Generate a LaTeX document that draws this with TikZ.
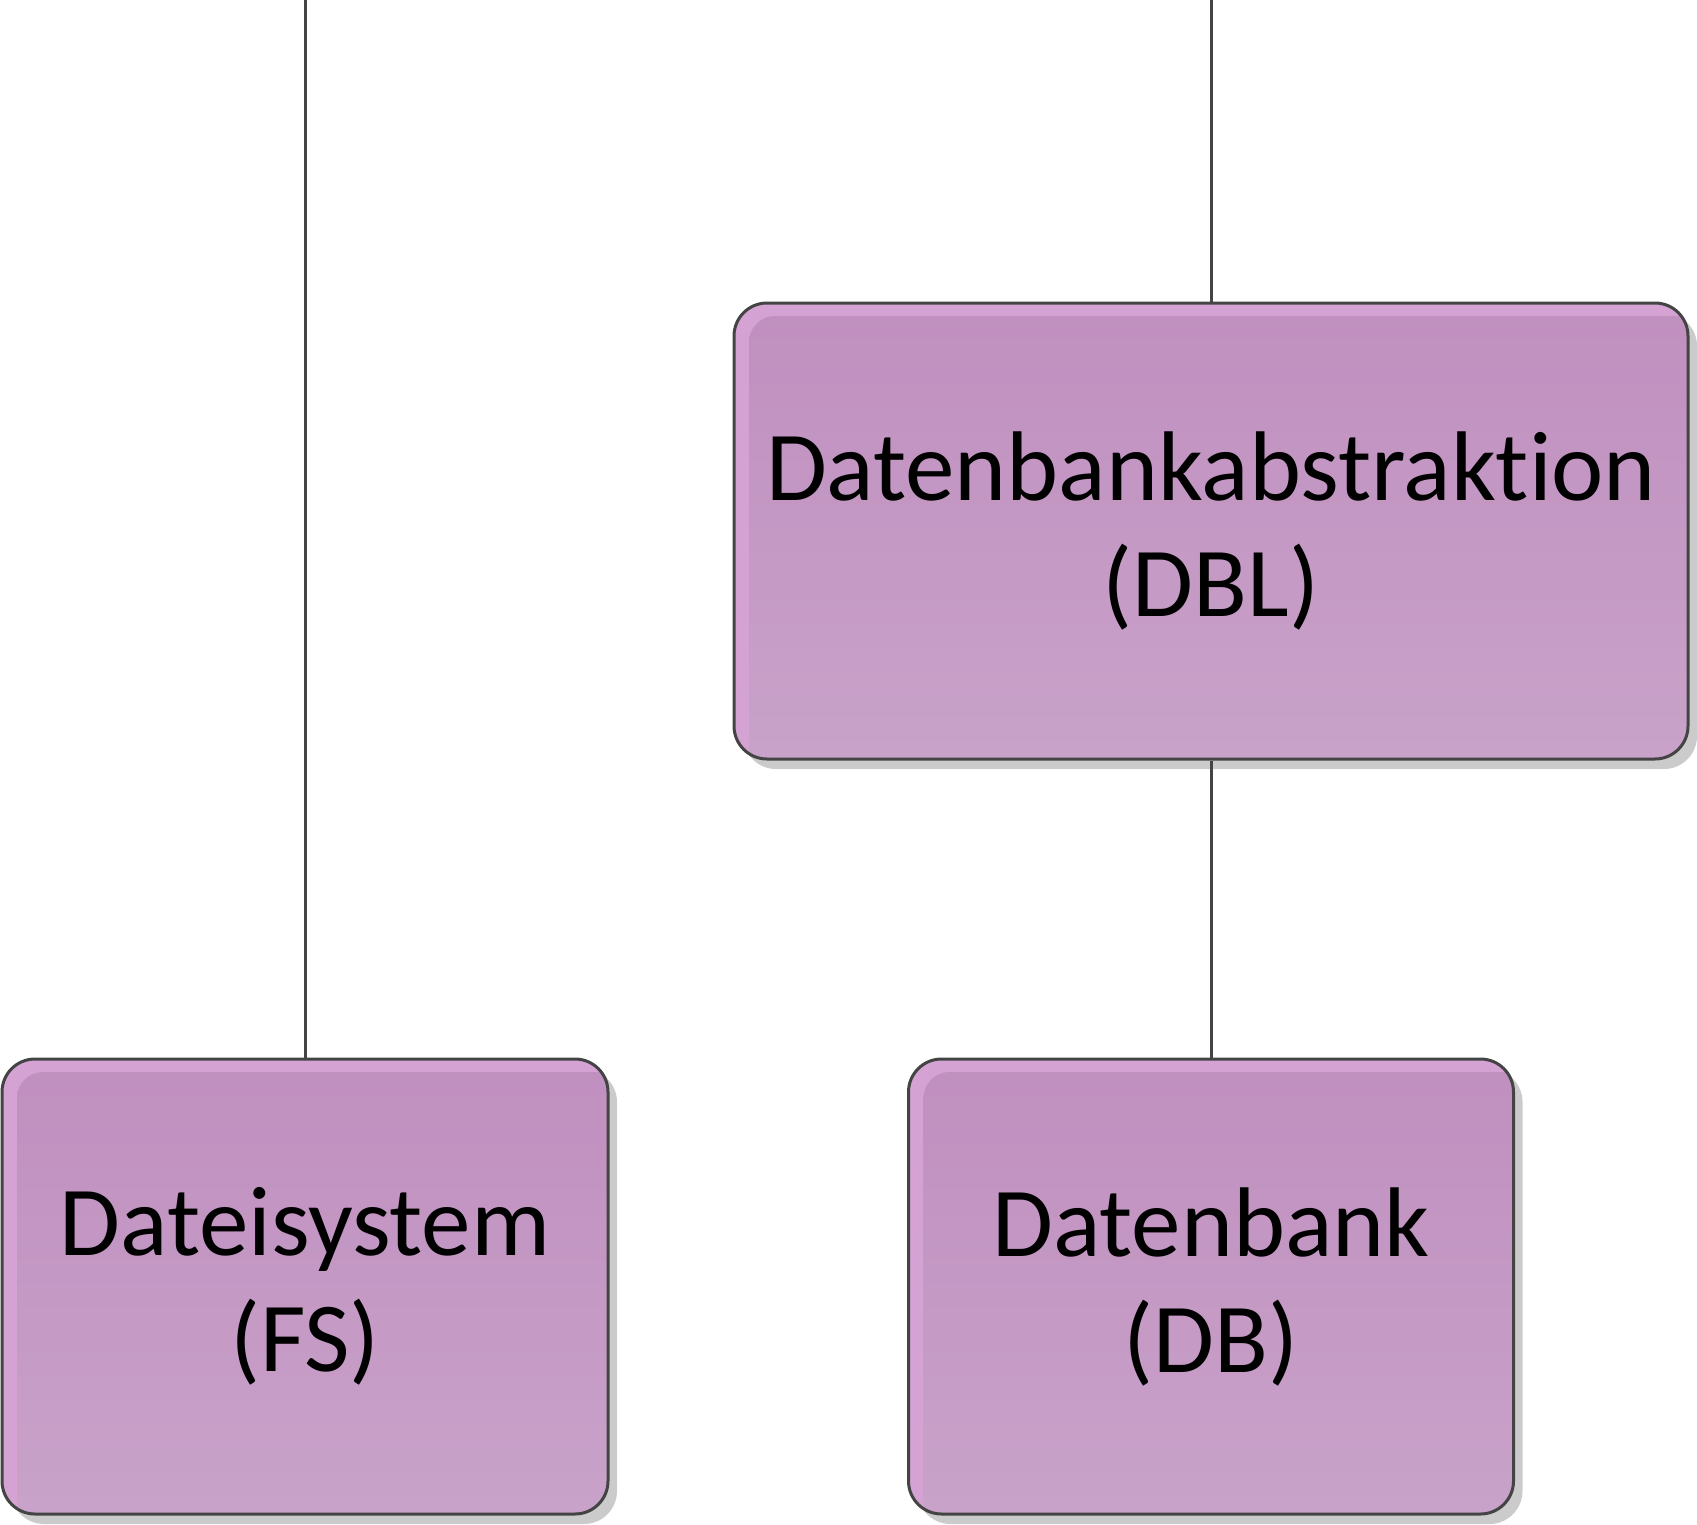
\documentclass[tikz,border=0pt]{standalone}
\usepackage{fontspec}
\setmainfont{Carlito}[RawFeature={-liga,-dlig,-clig}]
\usetikzlibrary{shadows}
\definecolor{boxlight}{HTML}{D4A3D4}
\definecolor{boxtop}{HTML}{C08FBF}
\definecolor{boxbot}{HTML}{C9A4CA}
\definecolor{edgecol}{HTML}{444444}
\definecolor{shadowcol}{HTML}{CBCBCB}
\tikzset{
  boxnode/.style={
    draw=edgecol, line width=3pt, rounded corners=33pt,
    fill=boxlight,
    align=center, text=black,
    font=\fontsize{99}{116}\selectfont,
    inner sep=0pt,
    drop shadow={shadow xshift=9pt, shadow yshift=-10pt, fill=shadowcol, opacity=1},
    path picture={
      \shade[top color=boxtop, bottom color=boxbot, rounded corners=26pt]
        ([xshift=15pt,yshift=-13pt]path picture bounding box.north west)
        rectangle ([xshift=40pt,yshift=-40pt]path picture bounding box.south east);
    }
  },
  conn/.style={draw=edgecol, line width=3pt}
}
\begin{document}
\begin{tikzpicture}[x=1pt,y=-1pt]
\useasboundingbox (0,0) rectangle (1697,1525);
\node[boxnode, minimum width=954pt, minimum height=456pt] (dbl) at (1211,531) {Datenbankabstraktion\\(DBL)};
\node[boxnode, minimum width=606pt, minimum height=455pt] (fs) at (305,1286.5) {Dateisystem\\(FS)};
\node[boxnode, minimum width=605pt, minimum height=455pt] (db) at (1211,1286.5) {Datenbank\\(DB)};
\coordinate (t1) at (305,0);
\coordinate (t2) at (1211,0);
\draw[conn] (t1) -- (fs.north);
\draw[conn] (t2) -- (dbl.north);
\draw[conn] (dbl.south) -- (db.north);
\end{tikzpicture}
\end{document}
